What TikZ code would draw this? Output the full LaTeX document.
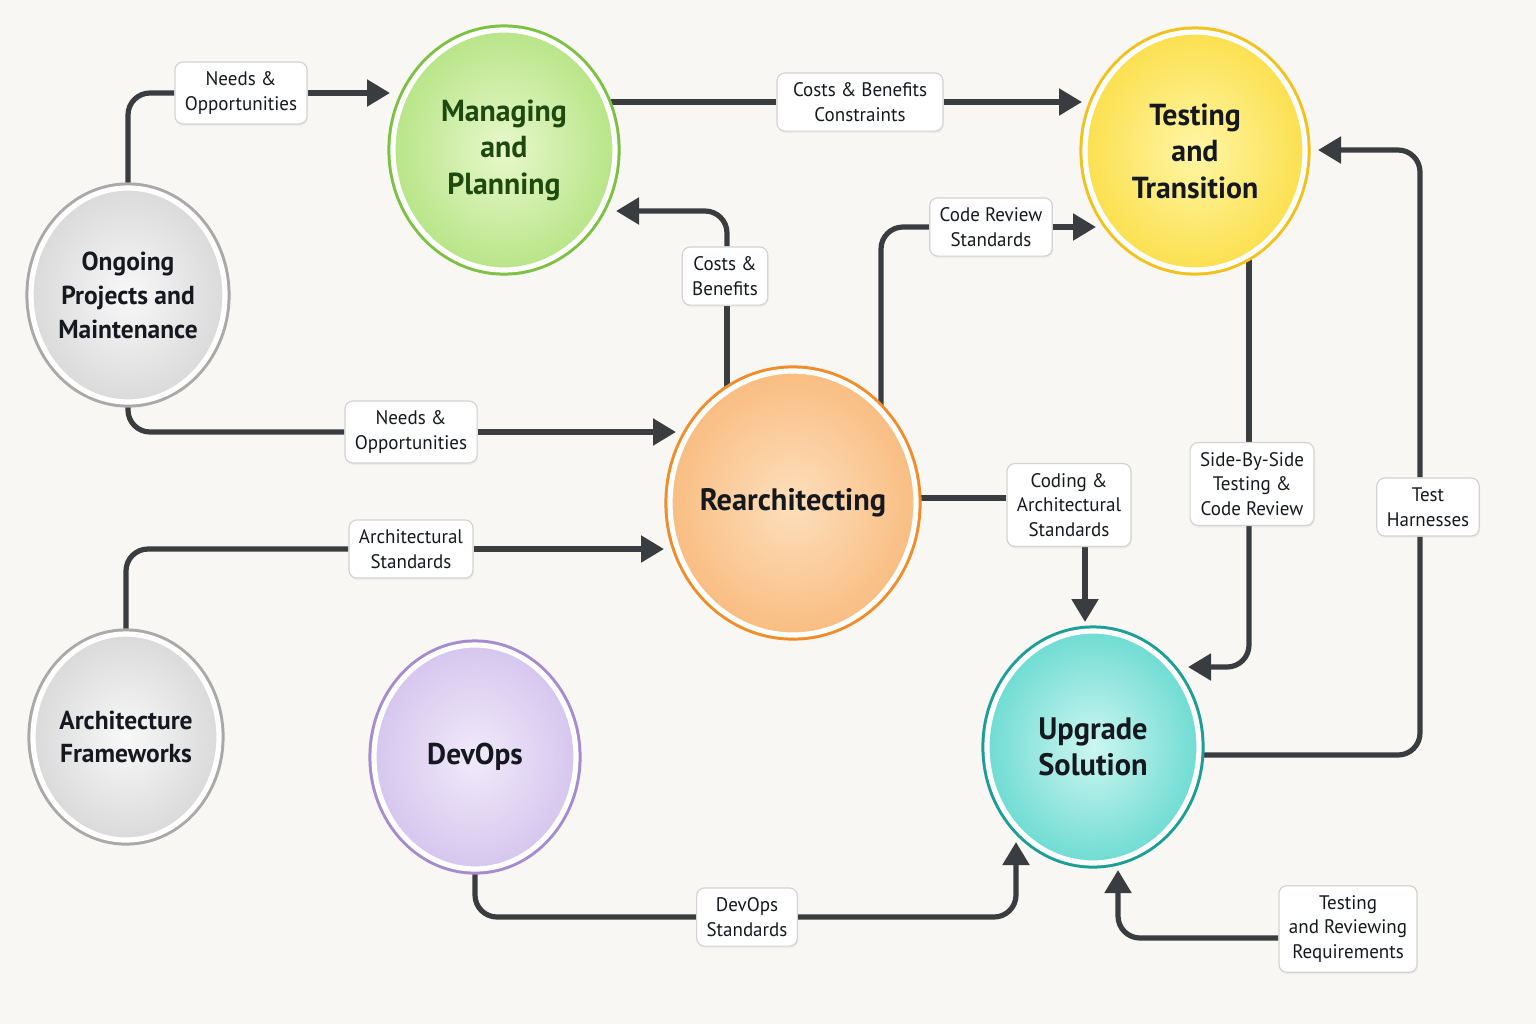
\documentclass[tikz,border=0pt]{standalone}
\usepackage{fontspec}
\usetikzlibrary{shapes.geometric,arrows.meta,shadows}
\newfontfamily\circfont[FakeStretch=0.98]{PT Sans}
\newfontfamily\labfont[FakeStretch=0.97]{PT Sans}
\pgfdeclarelayer{back}
\pgfdeclarelayer{bg}
\pgfsetlayers{back,bg,main}
\definecolor{bgc}{HTML}{F8F7F3}
\definecolor{linec}{HTML}{3A3D40}
\definecolor{ink}{HTML}{15191F}
\definecolor{labrim}{HTML}{D3D3D3}
\definecolor{grayrim}{HTML}{A9A9A9}
\definecolor{grayin}{HTML}{F8F8F8}
\definecolor{grayout}{HTML}{DADADA}
\definecolor{greenrim}{HTML}{7DC142}
\definecolor{greenin}{HTML}{E8F8CC}
\definecolor{greenout}{HTML}{B8E588}
\definecolor{greenink}{HTML}{1E4A10}
\definecolor{yellowrim}{HTML}{F2C21B}
\definecolor{yellowin}{HTML}{FFF6A6}
\definecolor{yellowout}{HTML}{FBE04F}
\definecolor{orangerim}{HTML}{F28C28}
\definecolor{orangein}{HTML}{FDDFBC}
\definecolor{orangeout}{HTML}{F9BD82}
\definecolor{purplerim}{HTML}{A68BD0}
\definecolor{purplein}{HTML}{F1EAFA}
\definecolor{purpleout}{HTML}{D6C6EE}
\definecolor{tealrim}{HTML}{1A9E95}
\definecolor{tealin}{HTML}{CDF6F1}
\definecolor{tealout}{HTML}{6FDCD3}
\tikzset{
  bub/.style={ellipse, inner sep=-12pt, align=center, text=ink,
    drop shadow={opacity=0.13, shadow xshift=1pt, shadow yshift=-2.5pt},
    draw=white, line width=2.6pt, shade},
  rim/.style n args={3}{preaction={draw=#1, line width=5.6pt}, inner color=#2, outer color=#3},
  fs/.style 2 args={font=\circfont\bfseries\fontsize{#1}{#2}\selectfont},
  lab/.style={rectangle, rounded corners=4pt, draw=labrim, line width=0.6pt, fill=white,
    align=center, text=ink, font=\labfont\fontsize{9.8}{12.4}\selectfont,
    inner xsep=5pt, inner ysep=4.8pt,
    drop shadow={opacity=0.08, shadow xshift=0.4pt, shadow yshift=-1pt}},
  conn/.style={draw=linec, line width=2.6pt, rounded corners=11pt},
  arr/.style={conn, -{Triangle[length=11.5pt, width=13pt]}}
}
\begin{document}
\begin{tikzpicture}[x=0.5pt,y=-0.5pt]
\begin{pgfonlayer}{back}
\fill[bgc] (0,0) rectangle (1536,1024);
\end{pgfonlayer}
\useasboundingbox (0,0) rectangle (1536,1024);

% bubbles
\node[bub, rim={grayrim}{grayin}{grayout}, fs={13}{17}, minimum width=97pt, minimum height=107pt] (ong) at (128,295) {Ongoing\\Projects and\\Maintenance};
\node[bub, rim={greenrim}{greenin}{greenout}, fs={15.2}{18.25}, text=greenink, minimum width=111pt, minimum height=120pt] (man) at (504,150) {Managing\\and\\Planning};
\node[bub, rim={yellowrim}{yellowin}{yellowout}, fs={15.2}{18.25}, minimum width=110pt, minimum height=119pt] (tt) at (1195,151) {Testing\\and\\Transition};
\node[bub, rim={orangerim}{orangein}{orangeout}, fs={15.5}{18}, minimum width=123pt, minimum height=132pt] (rea) at (793,503) {Rearchitecting};
\node[bub, rim={grayrim}{grayin}{grayout}, fs={13}{16.5}, minimum width=93pt, minimum height=103pt] (arf) at (126,737) {Architecture\\Frameworks};
\node[bub, rim={purplerim}{purplein}{purpleout}, fs={15}{18}, minimum width=101pt, minimum height=112pt] (dev) at (475,757) {DevOps};
\node[bub, rim={tealrim}{tealin}{tealout}, fs={15.5}{18}, minimum width=106pt, minimum height=116pt] (upg) at (1093,747) {Upgrade\\Solution};

% labels
\node[lab] (nA) at (241,93) {Needs \&\\Opportunities};
\node[lab, inner xsep=8pt] (nB) at (860,102) {Costs \& Benefits\\Constraints};
\node[lab] (nC) at (725,276) {Costs \&\\Benefits};
\node[lab] (nD) at (411,432) {Needs \&\\Opportunities};
\node[lab] (nE) at (991,227) {Code Review\\Standards};
\node[lab] (nF) at (411,549) {Architectural\\Standards};
\node[lab] (nG) at (1069,505) {Coding \&\\Architectural\\Standards};
\node[lab] (nH) at (1252,484) {Side-By-Side\\Testing \&\\Code Review};
\node[lab] (nI) at (1428,507) {Test\\Harnesses};
\node[lab] (nJ) at (747,917) {DevOps\\Standards};
\node[lab] (nK) at (1348,929) {Testing\\and Reviewing\\Requirements};

% tip / start coordinates
\coordinate (tA) at (390,94);
\coordinate (tB) at (1082,102);
\coordinate (tC) at (616,211);
\coordinate (sC) at (727,503);
\coordinate (tD) at (676,433);
\coordinate (sD) at (128,295);
\coordinate (eS) at (881,503);
\coordinate (tE) at (1096,226);
\coordinate (tF) at (664,549);
\coordinate (sG) at (793,498);
\coordinate (tG) at (1085,622);
\coordinate (sH) at (1249,151);
\coordinate (tH) at (1188,667);
\coordinate (iS) at (1093,755);
\coordinate (tI) at (1318,150);
\coordinate (tJ) at (1016,842);
\coordinate (tK) at (1118,870);

\begin{pgfonlayer}{bg}
\draw[conn] (ong.center) |- (nA.west);
\draw[arr] (nA.east) -- (nA.east -| tA);
\draw[conn] (man.center |- nB.west) -- (nB.west);
\draw[arr] (nB.east) -- (nB.east -| tB);
\draw[conn] (sC) -- (sC |- nC.south);
\draw[arr] (sC |- nC.north) |- (tC);
\draw[conn] (sD) |- (nD.west);
\draw[arr] (nD.east) -- (nD.east -| tD);
\draw[conn] (eS) |- (nE.west);
\draw[arr] (nE.east) -- (nE.east -| tE);
\draw[conn] (arf.center) |- (nF.west);
\draw[arr] (nF.east) -- (nF.east -| tF);
\draw[conn] (sG) -- (sG -| nG.west);
\draw[arr] (nG.south -| tG) -- (tG);
\draw[conn] (sH) -- (sH |- nH.north);
\draw[arr] (sH |- nH.south) |- (tH);
\draw[conn] (iS) -| ([xshift=-4pt]nI.south);
\draw[arr] ([xshift=-4pt]nI.north) |- (tI);
\draw[conn] (dev.center) |- (nJ.west);
\draw[arr] (nJ.east) -| (tJ);
\draw[arr] ([yshift=-4.5pt]nK.west) -| (tK);
\end{pgfonlayer}
\end{tikzpicture}
\end{document}
